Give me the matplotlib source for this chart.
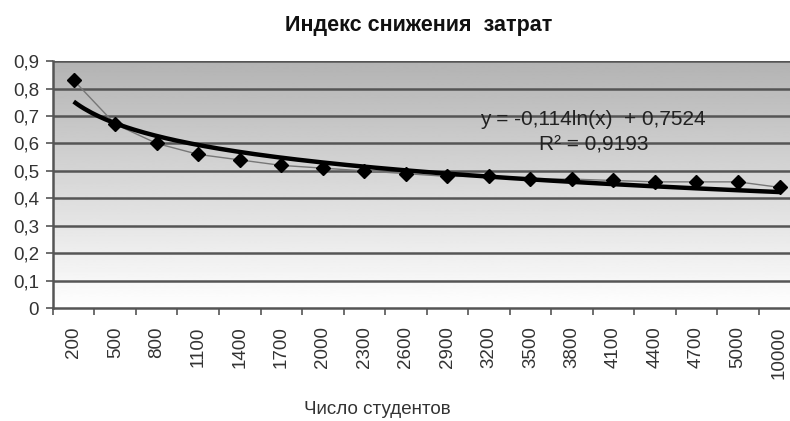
#!/usr/bin/env python3
"""Cost reduction index vs number of students, with a log trend line."""
import numpy as np
import matplotlib
matplotlib.use("Agg")
import matplotlib.pyplot as plt

plt.rcParams["font.family"] = ["Liberation Sans", "DejaVu Sans"]

students = ["200", "500", "800", "1100", "1400", "1700", "2000", "2300", "2600",
            "2900", "3200", "3500", "3800", "4100", "4400", "4700", "5000", "10000"]
index_values = [0.83, 0.67, 0.60, 0.56, 0.54, 0.52, 0.51, 0.50, 0.49,
                0.48, 0.48, 0.47, 0.47, 0.465, 0.46, 0.46, 0.46, 0.44]
# Excel trend line shown on the chart: y = a*ln(x) + b, x = 1..n
trend_a = -0.114
trend_b = 0.7524
r_squared = 0.9193

yticks = [0, 0.1, 0.2, 0.3, 0.4, 0.5, 0.6, 0.7, 0.8, 0.9]


def comma(v):
    return f"{v:g}".replace(".", ",")


fig = plt.figure(figsize=(7.9, 4.21), dpi=100)
ax = fig.add_axes([0.067, 0.268, 0.946, 0.587])

pos = np.arange(len(students))

# grey-to-white gradient background
grad = np.linspace(0.70, 1.0, 256).reshape(-1, 1)
ax.imshow(grad, cmap="gray", vmin=0, vmax=1, aspect="auto",
          extent=[-0.5, len(students) - 0.5, 0, 0.9], origin="upper", zorder=0)

for t in yticks[1:]:
    ax.axhline(t, color="#555555", lw=1.8, zorder=1)

ax.plot(pos, index_values, color="#777777", lw=1.0, zorder=3,
        marker="D", ms=7, mfc="black", mec="black")

tx = np.linspace(1, len(students), 200)
ax.plot(tx - 1, trend_a * np.log(tx) + trend_b, color="black", lw=3.2, zorder=4,
        solid_capstyle="butt")

fig.text(0.751, 0.715, f"y = {comma(trend_a)}ln(x)  + {comma(trend_b)}",
         ha="center", va="center", fontsize=15, color="#222222", zorder=5)
fig.text(0.751, 0.655, f"R² = {comma(r_squared)}",
         ha="center", va="center", fontsize=15, color="#222222", zorder=5)

ax.set_xlim(-0.5, len(students) - 0.5)
ax.set_ylim(0, 0.9)
ax.set_yticks(yticks)
ax.set_yticklabels([comma(t) for t in yticks], fontsize=13.5, color="#333333")
ax.set_xticks(pos)
ax.set_xticklabels(students, rotation=90, fontsize=13.5, color="#333333")
ax.set_xticks(np.arange(len(students) + 1) - 0.5, minor=True)
ax.tick_params(axis="x", which="major", length=0, pad=13)
ax.tick_params(axis="x", which="minor", length=5, width=1.2, color="#555555")
ax.tick_params(axis="y", length=5, width=1.2, color="#555555", pad=5)

for side in ("top", "right"):
    ax.spines[side].set_visible(False)
for side in ("left", "bottom"):
    ax.spines[side].set_color("#555555")
    ax.spines[side].set_linewidth(1.8)

fig.text(0.53, 0.94, "Индекс снижения  затрат", ha="center", va="center",
         fontsize=15.5, fontweight="bold", color="#111111")
fig.text(0.477, 0.027, "Число студентов", ha="center", va="center",
         fontsize=13.5, color="#333333")

fig.savefig("out.png", dpi=100)
